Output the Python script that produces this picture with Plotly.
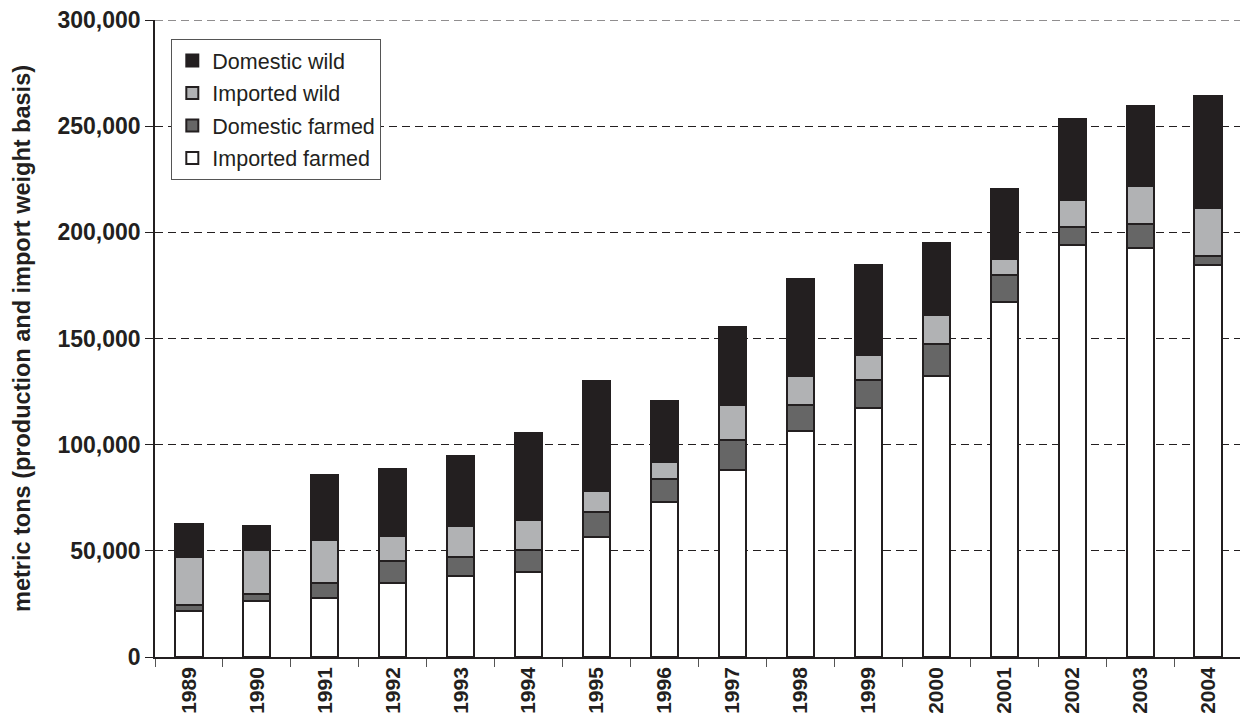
import plotly.graph_objects as go

years = ["1989", "1990", "1991", "1992", "1993", "1994", "1995", "1996",
         "1997", "1998", "1999", "2000", "2001", "2002", "2003", "2004"]
imported_farmed = [21800, 26600, 27800, 35000, 38000, 39800, 56600, 73000,
                   87900, 106300, 117300, 132200, 167300, 194000, 192700, 184500]
domestic_farmed = [2900, 3000, 7000, 10300, 9200, 10500, 11500, 10800,
                   14500, 12200, 13000, 15300, 12400, 8700, 11400, 4500]
imported_wild = [22600, 20700, 20500, 11900, 14300, 14200, 9900, 8000,
                 16300, 13700, 11800, 13700, 7700, 12300, 17600, 22400]
domestic_wild = [15400, 11200, 30600, 31500, 33200, 41200, 52200, 28800,
                 36800, 46000, 42500, 33800, 33100, 38400, 37700, 53000]
y_ticks = [0, 50000, 100000, 150000, 200000, 250000, 300000]
y_max = 300000

edge = "#231f20"
FONT = "Liberation Sans, Arial, sans-serif"
series = [
    ("Imported farmed", imported_farmed, "#ffffff", 4),
    ("Domestic farmed", domestic_farmed, "#666666", 3),
    ("Imported wild", imported_wild, "#b1b2b4", 2),
    ("Domestic wild", domestic_wild, "#231f20", 1),
]

fig = go.Figure()
for name, vals, col, rank in series:
    fig.add_trace(go.Bar(
        x=years, y=vals, name=name, legendgroup=name, legendrank=rank,
        marker=dict(color=col, line=dict(color=edge, width=2)),
    ))

# The page body has an 8px margin; the figure is sized so that it fills the window.
fig.update_layout(
    barmode="stack",
    bargap=0.6,
    width=1240, height=720,
    margin=dict(l=147, r=6, t=12, b=71, autoexpand=False),
    plot_bgcolor="white", paper_bgcolor="white",
    font=dict(family=FONT, color=edge),
    legend=dict(
        x=0.015, y=0.97, xanchor="left", yanchor="top",
        traceorder="grouped",
        bordercolor="#555555", borderwidth=1, bgcolor="white",
        font=dict(size=21.5, family=FONT, color=edge),
        itemwidth=30, tracegroupgap=1.5,
    ),
    showlegend=True,
)

# dashed gridline at the top edge of the value axis (Plotly omits the edge gridline)
fig.add_shape(type="line", xref="paper", x0=0, x1=1, yref="y", y0=y_max, y1=y_max,
              line=dict(color=edge, width=1, dash="8px,5px"), layer="below")

fig.update_yaxes(
    range=[0, y_max], tickvals=y_ticks, tickformat=",d",
    showgrid=True, gridcolor=edge, griddash="8px,5px", gridwidth=1,
    showline=True, linecolor=edge, linewidth=1.5, mirror=True,
    ticks="outside", ticklen=8, tickcolor=edge,
    ticklabeloverflow="allow", automargin=False,
    tickfont=dict(size=23, family=FONT, color=edge, weight="bold"),
    title=dict(text="<b>metric tons (production and import weight basis)</b>",
               font=dict(size=23.5, family=FONT, color=edge),
               standoff=20),
    zeroline=False,
)
fig.update_xaxes(
    type="category",
    showline=True, linecolor=edge, linewidth=1.5,
    ticks="outside", ticklen=8, tickcolor="#555555", tickson="boundaries",
    tickangle=-90, automargin=False,
    tickfont=dict(size=21, family=FONT, color=edge, weight="bold"),
    showgrid=False,
)

fig.write_html("out.html")
